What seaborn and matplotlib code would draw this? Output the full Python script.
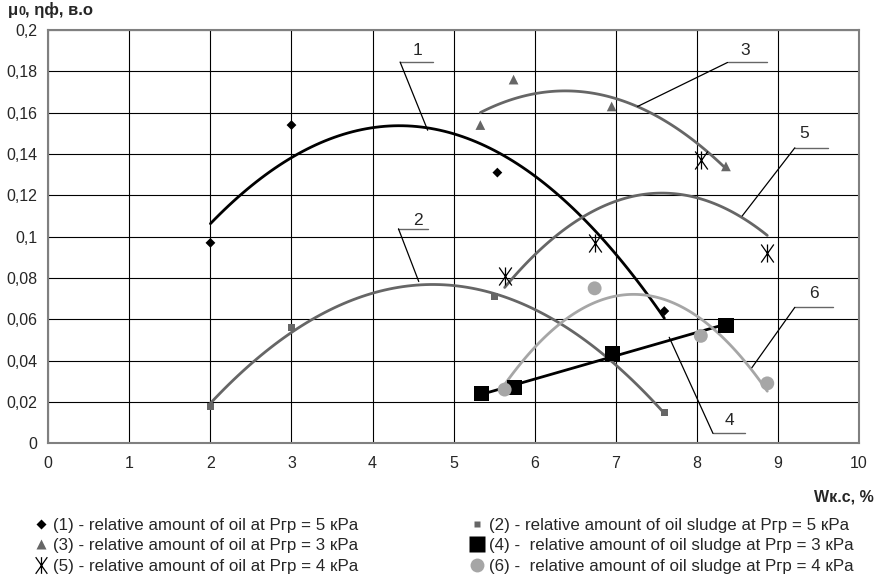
import numpy as np
import pandas as pd
import matplotlib
matplotlib.use("Agg")
import matplotlib.pyplot as plt
import seaborn as sns
from matplotlib.path import Path
from matplotlib.lines import Line2D
from matplotlib.ticker import FuncFormatter
from matplotlib.offsetbox import TextArea, HPacker, AnnotationBbox

# data
x_1 = [2.0, 3.0, 5.54, 7.6]
y_1 = [0.097, 0.154, 0.131, 0.064]
x_2 = [2.0, 3.0, 5.5, 7.6]
y_2 = [0.018, 0.056, 0.071, 0.015]
x_3 = [5.33, 5.74, 6.95, 8.36]
y_3 = [0.154, 0.176, 0.163, 0.134]
x_4 = [5.34, 5.75, 6.96, 8.36]
y_4 = [0.024, 0.027, 0.0435, 0.057]
x_5 = [5.63, 6.74, 8.05, 8.87]
y_5 = [0.081, 0.097, 0.137, 0.092]
x_6 = [5.63, 6.74, 8.05, 8.87]
y_6 = [0.026, 0.075, 0.052, 0.029]

labels = [
    "(1) - relative amount of oil at Pгр = 5 кPa",
    "(2) - relative amount of oil sludge at Pгр = 5 кPa",
    "(3) - relative amount of oil at Pгр = 3 кPa",
    "(4) -  relative amount of oil sludge at Pгр = 3 кPa",
    "(5) - relative amount of oil at Pгр = 4 кPa",
    "(6) -  relative amount of oil sludge at Pгр = 4 кPa",
]

# callouts: label, text pos (baseline), elbow, end of horizontal, point on curve
callouts = [
    ("1", (4.56, 0.1879), (4.34, 0.1845), (4.75, 0.1845), (4.68, 0.1515)),
    ("2", (4.56, 0.1055), (4.32, 0.1038), (4.69, 0.1038), (4.57, 0.0783)),
    ("3", (8.60, 0.1879), (8.38, 0.1843), (8.87, 0.1843), (7.27, 0.163)),
    ("5", (9.33, 0.1477), (9.21, 0.143), (9.62, 0.143), (8.56, 0.110)),
    ("6", (9.45, 0.0703), (9.21, 0.0658), (9.68, 0.0658), (8.68, 0.0366)),
    ("4", (8.40, 0.0089), (8.20, 0.0048), (8.59, 0.0048), (7.66, 0.0513)),
]

sns.set_style("white")
plt.rcParams["font.family"] = ["Liberation Sans", "DejaVu Sans"]

# asterisk with vertical bar (like Ж)
zh = Path([(0, -1), (0, 1), (-0.7, -1), (0.7, 1), (-0.7, 1), (0.7, -1)],
          [Path.MOVETO, Path.LINETO, Path.MOVETO, Path.LINETO, Path.MOVETO, Path.LINETO])

dark = "#000000"
mid = "#666666"
light = "#a6a6a6"

series = [
    (x_1, y_1, 2, "D", 5, dark, dark, 2.0),
    (x_2, y_2, 2, "s", 5, mid, mid, 2.0),
    (x_3, y_3, 2, "^", 7, mid, mid, 2.0),
    (x_4, y_4, 1, "s", 11, dark, dark, 2.0),
    (x_5, y_5, 2, zh, 13, dark, mid, 2.0),
    (x_6, y_6, 2, "o", 10, light, light, 2.0),
]

fig = plt.figure(figsize=(8.8, 5.77), dpi=100)
ax = fig.add_axes([0.0549, 0.2317, 0.9211, 0.7163])

handles = []
for xs, ys, deg, mk, ms, mcol, lcol, lw in series:
    coef = np.polyfit(xs, ys, deg)
    xx = np.linspace(min(xs), max(xs), 100)
    trend = pd.DataFrame({"x": xx, "y": np.polyval(coef, xx)})
    sns.lineplot(data=trend, x="x", y="y", ax=ax, color=lcol, lw=lw, zorder=3)
    pts = pd.DataFrame({"x": xs, "y": ys})
    if mk is zh:
        ax.plot(xs, ys, linestyle="none", marker=mk, markersize=ms,
                markeredgecolor=mcol, markeredgewidth=0.9, zorder=4)
        h = Line2D([], [], linestyle="none", marker=mk, markersize=ms - 1,
                   markeredgecolor=mcol, markerfacecolor="none", markeredgewidth=0.9)
    else:
        sns.scatterplot(data=pts, x="x", y="y", ax=ax, marker=mk, s=ms ** 2,
                        color=mcol, edgecolor="none", linewidth=0, zorder=4)
        h = Line2D([], [], linestyle="none", marker=mk, markersize=ms,
                   markerfacecolor=mcol, markeredgecolor="none")
    handles.append(h)

for lab, tpos, elbow, hend, cpt in callouts:
    ax.plot([elbow[0], hend[0]], [elbow[1], hend[1]], color=mid, lw=1.0, zorder=2)
    ax.plot([elbow[0], cpt[0]], [elbow[1], cpt[1]], color="black", lw=0.9, zorder=5)
    ax.text(tpos[0], tpos[1], lab, fontsize=12.5, ha="center", va="baseline")

ax.set_xlim(0, 10)
ax.set_ylim(0, 0.2)
ax.set_xticks(range(0, 11))
ax.set_yticks(np.arange(0, 0.201, 0.02))


def comma(v, pos):
    s = "%g" % round(v, 3)
    return s.replace(".", ",")


ax.yaxis.set_major_formatter(FuncFormatter(comma))
ax.grid(True, color="black", lw=0.8)
ax.set_axisbelow(True)
for sp in ax.spines.values():
    sp.set_color("#808080")
    sp.set_linewidth(1.5)
ax.tick_params(axis="both", which="major", direction="out", length=4, width=1,
               color="#808080", labelsize=11.5, pad=5)
ax.tick_params(axis="y", pad=4)
ax.set_xlabel("")
ax.set_ylabel("")

# axis titles
ylab = HPacker(children=[
    TextArea("μ", textprops=dict(size=12, weight="bold")),
    TextArea("0", textprops=dict(size=9, weight="bold")),
    TextArea(", ηф, в.о", textprops=dict(size=12, weight="bold")),
], align="baseline", pad=0, sep=0)
fig.add_artist(AnnotationBbox(ylab, (8, 577 - 18), xycoords="figure pixels",
                              box_alignment=(0, 0), frameon=False, pad=0))
fig.text(874 / 880, 1 - 501 / 577, "Wк.с, %", fontsize=11.5, weight="bold",
         ha="right", va="baseline")

leg_kw = dict(frameon=False, fontsize=12.2, handlelength=0.9, handletextpad=0.3,
              labelspacing=0.32, borderpad=0, borderaxespad=0, loc="upper left")
fig.legend([handles[0], handles[2], handles[4]], [labels[0], labels[2], labels[4]],
           bbox_to_anchor=(33 / 880, 1 - 518 / 577), **leg_kw)
fig.legend([handles[1], handles[3], handles[5]], [labels[1], labels[3], labels[5]],
           bbox_to_anchor=(469 / 880, 1 - 518 / 577), **leg_kw)

fig.savefig("out.png", dpi=100)
